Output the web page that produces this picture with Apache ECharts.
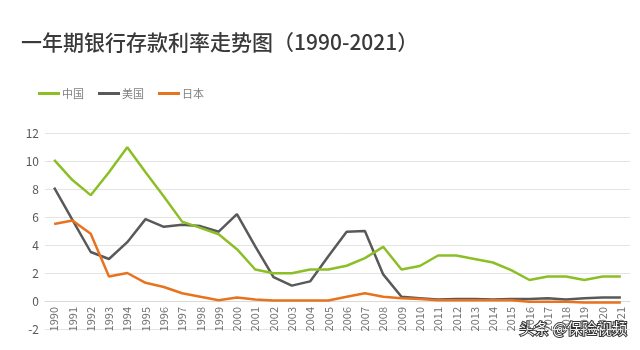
<!DOCTYPE html>
<html><head><meta charset="utf-8">
<script src="https://cdn.jsdelivr.net/npm/echarts@6/dist/echarts.min.js"></script>
<style>html,body{margin:0;padding:0;background:#fff}#c{width:640px;height:350px}</style>
</head><body><div id="c"></div>
<script>
const years = ['1990','1991','1992','1993','1994','1995','1996','1997','1998','1999','2000','2001','2002','2003','2004','2005','2006','2007','2008','2009','2010','2011','2012','2013','2014','2015','2016','2017','2018','2019','2020','2021'];
const china = [10.08,8.64,7.56,9.2,10.98,9.2,7.47,5.67,5.22,4.77,3.7,2.25,1.98,1.98,2.25,2.25,2.52,3.06,3.87,2.25,2.5,3.25,3.25,3.0,2.75,2.2,1.5,1.75,1.75,1.5,1.75,1.75];
const usa = [8.1,5.8,3.5,3.0,4.2,5.85,5.3,5.45,5.35,4.95,6.2,3.9,1.7,1.1,1.4,3.2,4.95,5.0,1.9,0.3,0.2,0.1,0.15,0.15,0.1,0.15,0.15,0.2,0.1,0.2,0.25,0.25];
const japan = [5.5,5.75,4.8,1.75,2.0,1.3,1.0,0.55,0.3,0.05,0.25,0.1,0.03,0.03,0.03,0.03,0.3,0.55,0.3,0.2,0.15,0.05,0.05,0.05,0.05,0.05,-0.05,-0.05,-0.05,-0.1,-0.1,-0.1];
const yTicks = [-2,0,2,4,6,8,10,12];

const gridTop = 133, gridBottom = 21, H = 350;
const plotH = H - gridTop - gridBottom;
const zeroOffset = plotH * (0 - yTicks[0]) / (yTicks[yTicks.length-1] - yTicks[0]);

const chart = echarts.init(document.getElementById('c'));
const font = '"Noto Sans CJK SC", "Noto Sans", sans-serif';
chart.setOption({
  animation: false,
  textStyle: {fontFamily: font},
  title: {
    text: '一年期银行存款利率走势图（1990-2021）',
    left: 16, top: 27,
    textStyle: {fontSize: 21, fontWeight: 500, color: '#3a3a3a', fontFamily: font}
  },
  legend: {
    left: 33, top: 83,
    itemWidth: 22, itemHeight: 3, itemGap: 14,
    icon: 'rect',
    textStyle: {fontSize: 11, color: '#808080', fontFamily: font, padding: [0,0,0,-3]},
    data: ['中国','美国','日本']
  },
  grid: {left: 45, right: 10, top: gridTop, bottom: gridBottom, containLabel: false, outerBoundsMode: 'none'},
  xAxis: {
    type: 'category', data: years,
    offset: -zeroOffset,
    axisLine: {onZero: false, lineStyle: {color: '#d9d9d9', width: 1}},
    axisTick: {show: false},
    axisLabel: {rotate: 90, color: '#707070', fontSize: 11, margin: 6, interval: 0}
  },
  yAxis: {
    type: 'value', min: yTicks[0], max: yTicks[yTicks.length-1], interval: 2,
    axisLine: {show: false}, axisTick: {show: false},
    axisLabel: {color: '#595959', fontSize: 12, margin: 6},
    splitLine: {lineStyle: {color: '#e4e4e4', width: 1}}
  },
  series: [
    {name: '中国', type: 'line', data: china, symbol: 'none', lineStyle: {color: '#8cbf26', width: 2.5}, itemStyle: {color: '#8cbf26'}, z: 3},
    {name: '美国', type: 'line', data: usa, symbol: 'none', lineStyle: {color: '#595959', width: 2.5}, itemStyle: {color: '#595959'}, z: 2},
    {name: '日本', type: 'line', data: japan, symbol: 'none', lineStyle: {color: '#e8731f', width: 2.5}, itemStyle: {color: '#e8731f'}, z: 4}
  ],
  graphic: [{
    type: 'text', right: 12, top: 320,
    style: {text: '头条 @保险视频', fontSize: 15, fill: '#ffffff', stroke: '#333333', lineWidth: 2, fontFamily: font}
  }]
});
</script></body></html>
